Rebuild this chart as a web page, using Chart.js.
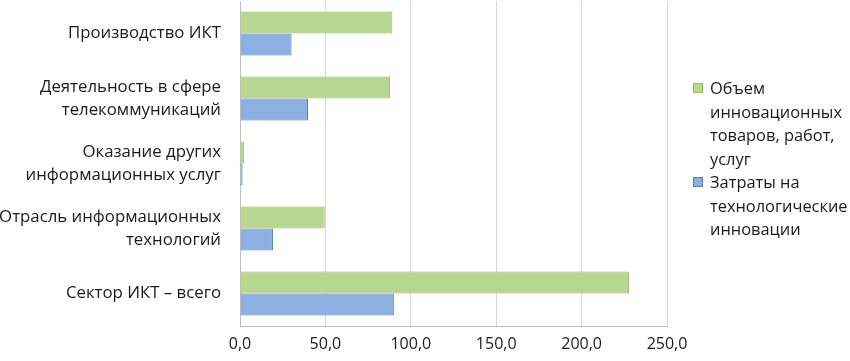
<!DOCTYPE html>
<html>
<head>
<meta charset="utf-8">
<script src="https://cdn.jsdelivr.net/npm/chart.js@4/dist/chart.umd.min.js"></script>
<style>
  html, body { margin: 0; padding: 0; background: #fff; }
  #wrap { position: relative; width: 850px; height: 361px; }
  #legend { position: absolute; left: 693px; top: 76px; font-family: "Open Sans", sans-serif; font-size: 16.4px; line-height: 23.5px; color: #1a1a1a; }
  .item { position: relative; padding-left: 17px; white-space: nowrap; }
  .sw { position: absolute; left: 0; top: 7px; width: 8px; height: 8px; border: 1px solid; }
</style>
</head>
<body>
<div id="wrap">
  <canvas id="c" width="850" height="361"></canvas>
  <div id="legend"></div>
</div>
<script>
const categories = [
  ["Производство ИКТ"],
  ["Деятельность в сфере", "телекоммуникаций"],
  ["Оказание других", "информационных услуг"],
  ["Отрасль информационных", "технологий"],
  ["Сектор ИКТ – всего"]
];
const seriesNames = [
  ["Объем", "инновационных", "товаров, работ,", "услуг"],
  ["Затраты на", "технологические", "инновации"]
];
const innovativeGoods = [89.2, 87.8, 2.3, 49.6, 227.8];
const techInnovationCosts = [30.2, 39.8, 1.5, 19.3, 90.3];
const xTicks = [0, 50, 100, 150, 200, 250];

const greenFill = '#b7d690', greenBorder = '#9bbb59';
const blueFill = '#8cb0e1', blueBorder = '#4f81bd';

const FONT = '"Open Sans", sans-serif';

const chart = new Chart(document.getElementById('c'), {
  type: 'bar',
  data: {
    labels: categories,
    datasets: [
      { label: seriesNames[0].join(' '), data: innovativeGoods, backgroundColor: greenFill, borderColor: greenBorder, borderWidth: 1 },
      { label: seriesNames[1].join(' '), data: techInnovationCosts, backgroundColor: blueFill, borderColor: blueBorder, borderWidth: 1 }
    ]
  },
  options: {
    indexAxis: 'y',
    responsive: false,
    animation: false,
    layout: { padding: { left: 0, right: 183, top: 1, bottom: 0 } },
    datasets: { bar: { categoryPercentage: 0.68, barPercentage: 1.0 } },
    plugins: { legend: { display: false }, tooltip: { enabled: false } },
    scales: {
      x: {
        min: xTicks[0], max: xTicks[xTicks.length - 1],
        afterBuildTicks: (s) => { s.ticks = xTicks.map(v => ({ value: v })); },
        ticks: {
          color: '#1a1a1a', font: { family: FONT, size: 16 }, padding: 9,
          callback: (v) => Number(v).toFixed(1).replace('.', ',')
        },
        grid: { color: '#d9d9d9', drawTicks: false },
        border: { color: '#bfbfbf' },
        afterFit: (s) => { s.height = 35; s.paddingLeft = 0; s.paddingRight = 0; }
      },
      y: {
        ticks: { color: '#1a1a1a', font: { family: FONT, size: 16.8, lineHeight: 1.4 }, padding: 19 },
        grid: { display: false, drawTicks: false },
        border: { color: '#bfbfbf' },
        afterFit: (s) => { s.width = 240; s.paddingTop = 0; s.paddingBottom = 0; }
      }
    }
  }
});

const leg = document.getElementById('legend');
const cols = [[greenFill, greenBorder], [blueFill, blueBorder]];
seriesNames.forEach((lines, i) => {
  const d = document.createElement('div');
  d.className = 'item';
  const sw = document.createElement('span');
  sw.className = 'sw';
  sw.style.background = cols[i][0];
  sw.style.borderColor = cols[i][1];
  d.appendChild(sw);
  lines.forEach(t => { const l = document.createElement('div'); l.textContent = t; d.appendChild(l); });
  leg.appendChild(d);
});
</script>
</body>
</html>
